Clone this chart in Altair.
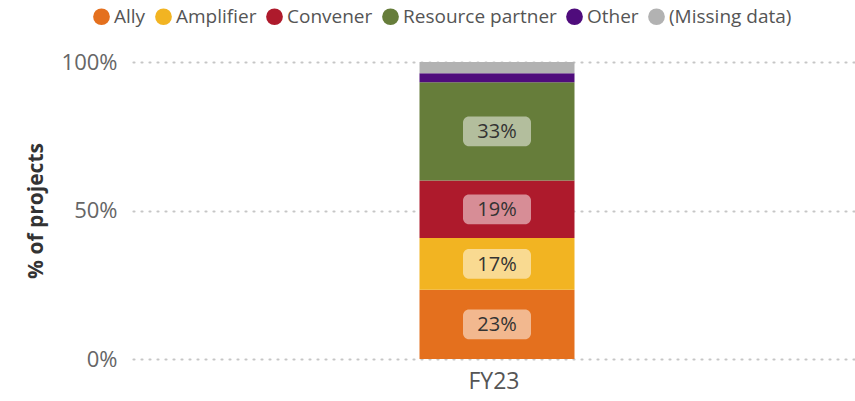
import altair as alt
import pandas as pd

periods = ["FY23"] * 6
roles = ["Ally", "Amplifier", "Convener", "Resource partner", "Other", "(Missing data)"]
values = [23.3, 17.4, 19.4, 33.1, 3.0, 3.8]
order = [1, 2, 3, 4, 5, 6]
colors = ["#E4701E", "#F2B422", "#AE1A2C", "#667D3A", "#4F0C7C", "#B2B2B2"]

df = pd.DataFrame({"period": periods, "role": roles, "value": values, "ord": order})

FONT = "Open Sans"

base = alt.Chart(df).transform_stack(
    stack="value", groupby=["period"], as_=["v0", "v1"], sort=[alt.SortField("ord", order="ascending")]
).transform_calculate(
    mid="(datum.v0 + datum.v1) / 2",
    lo="(datum.v0 + datum.v1) / 2 - 5.0",
    hi="(datum.v0 + datum.v1) / 2 + 5.0",
    label="round(datum.value) + '%'",
)

x_enc = alt.X(
    "period:N",
    title=None,
    axis=alt.Axis(labelAngle=0, labelFontSize=23, labelColor="#555555", labelFont=FONT,
                  domain=False, ticks=False, labelPadding=11),
)

bars = base.mark_bar(size=155, xOffset=3).encode(
    x=x_enc,
    y=alt.Y(
        "v0:Q",
        title="% of projects",
        scale=alt.Scale(domain=[0, 100], nice=False),
        axis=alt.Axis(
            values=[0, 50, 100], labelExpr="datum.value + '%'",
            labelFontSize=22, labelColor="#666666", labelFont=FONT,
            titleFont=FONT, titleFontSize=21, titleFontWeight="bold", titleColor="#333333",
            titlePadding=15, labelPadding=16,
            domain=False, ticks=False,
            grid=True, gridColor="#c6c6c6", gridDash=[1, 7], gridWidth=2.2, gridCap="round",
        ),
    ),
    y2="v1:Q",
    color=alt.Color(
        "role:N",
        scale=alt.Scale(domain=roles, range=colors),
        legend=alt.Legend(
            title=None, orient="none", direction="horizontal", legendX=-41, legendY=-55,
            symbolType="circle", symbolSize=280, symbolStrokeWidth=0,
            labelFont=FONT, labelFontSize=19, labelColor="#555555",
            columnPadding=8, labelOffset=3,
        ),
    ),
    order=alt.Order("ord:Q"),
)

boxes = base.transform_filter("datum.value >= 10").mark_bar(
    size=68, cornerRadius=6, color="white", opacity=0.5, xOffset=3
).encode(x=alt.X("period:N"), y="lo:Q", y2="hi:Q")

texts = base.transform_filter("datum.value >= 10").mark_text(
    font=FONT, fontSize=20, color="#333333", baseline="middle", dy=1, dx=3
).encode(x=alt.X("period:N"), y="mid:Q", text="label:N")

chart = alt.layer(bars, boxes, texts).properties(
    width=722, height=297,
    autosize=alt.AutoSizeParams(type="none"),
    padding={"left": 133, "top": 62, "right": 0, "bottom": 42},
).configure_view(stroke=None)

chart.save("out.html", embed_options={"renderer": "svg", "actions": False})
